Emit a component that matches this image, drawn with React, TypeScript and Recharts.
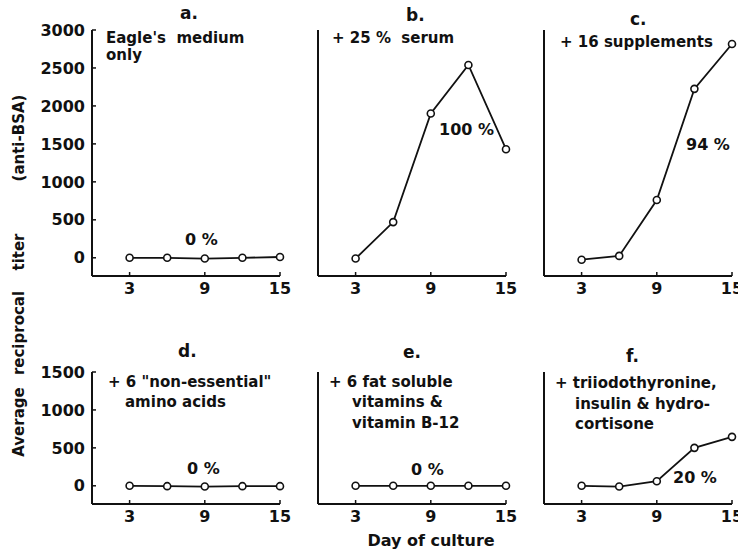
import { LineChart, Line, XAxis, YAxis } from "recharts"

const DAYS = [3, 6, 9, 12, 15]
const EAGLE_ONLY = [0, 0, -10, 0, 10]
const SERUM = [-10, 470, 1900, 2540, 1430]
const SUPPLEMENTS = [-25, 25, 760, 2225, 2815]
const NON_ESSENTIAL = [0, -5, -10, -5, -5]
const FAT_SOLUBLE = [0, 0, 0, 0, 0]
const HORMONES = [0, -10, 60, 500, 645]

const X_TICKS = [3, 9, 15]
const TOP_TICKS = [0, 500, 1000, 1500, 2000, 2500, 3000]
const BOTTOM_TICKS = [0, 500, 1000, 1500]

const FONT = "DejaVu Sans"
const INK = "#111"
const AXIS_W = 60
const PLOT_W = 188
const RIGHT_PAD = 16

interface PanelProps {
  values: number[]
  left: number
  top: number
  plotH: number
  yMax: number
  yTicks: number[]
  showLabels: boolean
}

function Panel({ values, left, top, plotH, yMax, yTicks, showLabels }: PanelProps) {
  const data = DAYS.map((d, i) => ({ day: d, titer: values[i] }))
  const tickStyle = { fill: INK, fontSize: 16, fontWeight: "bold", fontFamily: FONT }

  return (
    <div style={{ position: "absolute", left: left - AXIS_W, top: top - 10 }}>
      <LineChart
        width={AXIS_W + PLOT_W + RIGHT_PAD}
        height={plotH + 40}
        data={data}
        margin={{ top: 10, right: RIGHT_PAD, bottom: 0, left: 0 }}
      >
        <XAxis
          type="number"
          dataKey="day"
          domain={[0, 15]}
          ticks={X_TICKS}
          interval={0}
          height={30}
          stroke={INK}
          axisLine={{ stroke: INK, strokeWidth: 2 }}
          tickLine={{ stroke: INK, strokeWidth: 1.5 }}
          tickSize={-4}
          tickMargin={11}
          tick={tickStyle}
        />
        <YAxis
          type="number"
          domain={[-240, yMax]}
          ticks={yTicks}
          interval={0}
          width={AXIS_W}
          stroke={INK}
          axisLine={{ stroke: INK, strokeWidth: 2 }}
          tickLine={{ stroke: INK, strokeWidth: 1.5 }}
          tickSize={-4}
          tickMargin={11}
          tick={showLabels ? tickStyle : false}
        />
        <Line
          dataKey="titer"
          stroke={INK}
          strokeWidth={1.8}
          dot={{ r: 3.5, fill: "#fff", stroke: INK, strokeWidth: 1.6 }}
          isAnimationActive={false}
        />
      </LineChart>
    </div>
  )
}

const txt = { fontFamily: FONT, fontWeight: "bold" as const, fill: INK, whiteSpace: "pre" as const }

export default function App() {
  return (
    <div style={{ position: "absolute", left: 0, top: 0, width: 738, height: 553, background: "#fff", overflow: "hidden" }}>
      <Panel values={EAGLE_ONLY} left={92} top={30} plotH={246} yMax={3000} yTicks={TOP_TICKS} showLabels />
      <Panel values={SERUM} left={318} top={30} plotH={246} yMax={3000} yTicks={TOP_TICKS} showLabels={false} />
      <Panel values={SUPPLEMENTS} left={544} top={30} plotH={246} yMax={3000} yTicks={TOP_TICKS} showLabels={false} />
      <Panel values={NON_ESSENTIAL} left={92} top={372} plotH={132} yMax={1500} yTicks={BOTTOM_TICKS} showLabels />
      <Panel values={FAT_SOLUBLE} left={318} top={372} plotH={132} yMax={1500} yTicks={BOTTOM_TICKS} showLabels={false} />
      <Panel values={HORMONES} left={544} top={372} plotH={132} yMax={1500} yTicks={BOTTOM_TICKS} showLabels={false} />

      <svg width={738} height={553} style={{ position: "absolute", left: 0, top: 0, pointerEvents: "none" }}>
        {/* panel letters */}
        <text x={180} y={19} fontSize={17} style={txt}>a.</text>
        <text x={406} y={21} fontSize={17} style={txt}>b.</text>
        <text x={630} y={25} fontSize={17} style={txt}>c.</text>
        <text x={178} y={357} fontSize={17} style={txt}>d.</text>
        <text x={403} y={358} fontSize={17} style={txt}>e.</text>
        <text x={626} y={362} fontSize={17} style={txt}>f.</text>

        {/* conditions */}
        <text x={106} y={43} fontSize={15} style={txt}>Eagle's  medium</text>
        <text x={106} y={60} fontSize={15} style={txt}>only</text>
        <text x={332} y={43} fontSize={15} style={txt}>+ 25 %  serum</text>
        <text x={560} y={47} fontSize={15} style={txt}>+ 16 supplements</text>
        <text x={108} y={387} fontSize={15} style={txt}>+ 6 "non-essential"</text>
        <text x={125} y={407} fontSize={15} style={txt}>amino acids</text>
        <text x={329} y={387} fontSize={15} style={txt}>+ 6 fat soluble</text>
        <text x={352} y={407} fontSize={15} style={txt}>vitamins &amp;</text>
        <text x={352} y={428} fontSize={15} style={txt}>vitamin B-12</text>
        <text x={555} y={388} fontSize={15} style={txt}>+ triiodothyronine,</text>
        <text x={575} y={409} fontSize={15} style={txt}>insulin &amp; hydro-</text>
        <text x={575} y={429} fontSize={15} style={txt}>cortisone</text>

        {/* response percentages */}
        <text x={185} y={245} fontSize={16} style={txt}>0 %</text>
        <text x={439} y={135} fontSize={16} style={txt}>100 %</text>
        <text x={686} y={150} fontSize={16} style={txt}>94 %</text>
        <text x={187} y={474} fontSize={16} style={txt}>0 %</text>
        <text x={411} y={475} fontSize={16} style={txt}>0 %</text>
        <text x={673} y={483} fontSize={16} style={txt}>20 %</text>

        {/* axis titles */}
        <text x={431} y={546} fontSize={16} textAnchor="middle" style={txt}>Day of culture</text>
        <g transform="translate(24 0) rotate(-90)">
          <text x={-422} y={0} fontSize={15} textAnchor="middle" style={txt}>Average</text>
          <text x={-333} y={0} fontSize={15} textAnchor="middle" style={txt}>reciprocal</text>
          <text x={-252} y={0} fontSize={15} textAnchor="middle" style={txt}>titer</text>
          <text x={-138} y={0} fontSize={15} textAnchor="middle" style={txt}>(anti-BSA)</text>
        </g>
      </svg>
    </div>
  )
}
